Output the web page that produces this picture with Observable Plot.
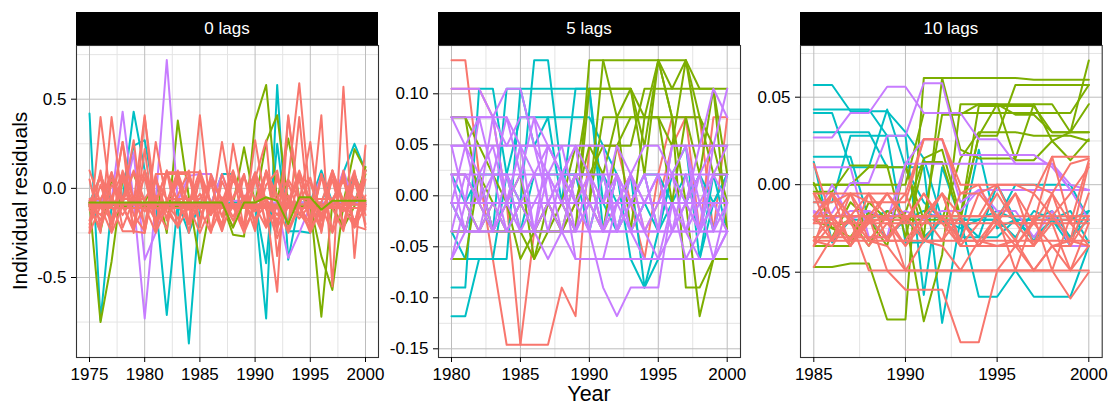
<!DOCTYPE html>
<html><head><meta charset="utf-8">
<script src="https://cdn.jsdelivr.net/npm/d3@7"></script>
<script src="https://cdn.jsdelivr.net/npm/@observablehq/plot@0.6"></script>
<style>
body{margin:0;background:#fff;font-family:"Liberation Sans",Arial,sans-serif;}
#wrap{position:relative;width:1110px;height:406px;overflow:hidden;}
.panel{position:absolute;top:0;overflow:visible;}
.strip{position:absolute;top:12px;height:33px;background:#000;color:#fff;font-size:17px;line-height:33px;text-align:center;}
.ytitle{position:absolute;left:20px;top:201px;transform:translate(-50%,-50%) rotate(-90deg);font-size:21px;white-space:nowrap;color:#000;}
.xtitle{position:absolute;left:589px;top:382px;transform:translateX(-50%);font-size:21.5px;color:#000;white-space:nowrap;}
</style></head>
<body><div id="wrap"></div>
<script>
// ---------- categories ----------
const groupNames = ["a", "b", "c", "d"];
const groupColors = ["#F8766D", "#7CAE00", "#00BFC4", "#C77CFF"];
const panelTitles = ["0 lags", "5 lags", "10 lags"];
const yAxisTitle = "Individual residuals";
const xAxisTitle = "Year";

// ---------- panel 1: 0 lags ----------
const lag0Years = [1975,1976,1977,1978,1979,1980,1981,1982,1983,1984,1985,1986,1987,1988,1989,1990,1991,1992,1993,1994,1995,1996,1997,1998,1999,2000];
const lag0XTicks = [1975,1980,1985,1990,1995,2000];
const lag0XMinor = [1977.5,1982.5,1987.5,1992.5,1997.5];
const lag0YTicks = [-0.5,0,0.5];
const lag0YMinor = [-0.75,-0.25,0.25,0.75];
const lag0Groups = ["c","c","c","b","b","b","d","d","a","a","a","a","a","a","a","a","a","a","a","a","a","a","a","a","a","a","b"];
const lag0Values = [
  [0.42,-0.74,-0.10,-0.06,0.43,  0.10,-0.08,-0.09,-0.08,-0.09,  -0.08,-0.09,0.08,0.08,-0.09,  -0.08,-0.42,0.25,-0.24,-0.24,  -0.25,-0.08,-0.09,-0.08,-0.08,  0.10],
  [-0.08,0.07,-0.08,-0.08,0.24,  0.27,-0.08,-0.71,-0.08,-0.25,  -0.08,-0.08,-0.09,-0.08,-0.08,  -0.09,-0.73,0.58,-0.40,-0.08,  -0.08,0.10,-0.08,0.09,0.25,  0.10],
  [-0.09,-0.09,0.07,-0.09,-0.09,  -0.09,-0.09,-0.09,-0.09,-0.87,  -0.09,-0.09,-0.09,-0.08,-0.08,  -0.09,-0.09,-0.09,-0.09,0.08,  -0.09,-0.08,0.08,-0.09,0.08,  -0.09],
  [-0.08,-0.75,-0.41,0.05,0.08,  -0.08,0.05,-0.25,0.38,-0.05,  -0.42,-0.08,-0.08,-0.26,-0.27,  0.38,0.58,-0.08,0.28,-0.05,  -0.08,-0.72,-0.08,-0.08,0.22,  0.10],
  [-0.09,-0.09,-0.09,-0.09,-0.09,  -0.09,-0.09,-0.09,-0.09,-0.09,  -0.09,-0.09,-0.09,-0.09,0.23,  -0.09,0.26,0.41,-0.09,-0.09,  -0.09,-0.38,-0.57,-0.09,-0.09,  0.12],
  [-0.10,-0.24,0.05,-0.10,-0.10,  -0.10,-0.10,-0.10,-0.10,-0.10,  -0.10,-0.10,-0.10,-0.10,-0.10,  -0.10,-0.10,-0.10,-0.10,-0.10,  -0.10,-0.10,-0.10,-0.22,-0.10,  0.08],
  [-0.07,-0.07,-0.07,0.43,-0.07,  -0.73,-0.07,0.72,-0.07,0.07,  0.08,0.08,-0.07,-0.07,-0.07,  0.09,-0.08,-0.08,-0.08,-0.08,  -0.08,-0.08,-0.08,-0.08,-0.08,  -0.08],
  [-0.09,-0.09,0.08,-0.09,0.20,  -0.40,-0.25,-0.09,-0.09,-0.09,  -0.09,-0.09,0.08,-0.09,-0.09,  -0.09,-0.09,-0.09,-0.39,-0.25,  -0.10,0.07,-0.09,0.10,-0.09,  -0.09],
  [-0.25,0.40,-0.10,0.26,-0.08,  0.41,-0.20,0.09,-0.08,-0.20,  0.41,-0.15,0.26,-0.10,-0.20,  0.27,-0.10,-0.58,0.41,-0.10,  -0.20,0.41,-0.55,0.57,-0.39,  0.24],
  [-0.08,-0.25,0.40,-0.08,0.27,  -0.25,0.26,-0.08,0.10,-0.25,  0.08,-0.08,-0.24,0.25,-0.08,  0.05,0.27,-0.38,0.05,0.59,  -0.08,-0.22,0.08,-0.08,0.10,  -0.22],
  [-0.10,0.08,-0.10,0.26,-0.25,  0.40,-0.08,0.10,-0.22,0.08,  -0.22,0.08,-0.08,-0.22,0.08,  -0.22,0.10,-0.25,0.40,-0.08,  0.26,-0.25,0.10,-0.22,0.08,  -0.08],
  [-0.22,0.10,-0.24,0.08,-0.22,  0.22,-0.24,0.09,0.09,0.09,  0.09,-0.24,0.08,-0.08,-0.22,  0.08,-0.22,0.08,-0.22,0.40,  -0.22,0.08,-0.24,0.10,-0.22,  0.10],
  [-0.10,-0.10,-0.10,-0.24,-0.24,  -0.25,0.08,0.08,0.08,0.08,  -0.10,-0.10,-0.10,-0.10,-0.10,  -0.10,-0.10,-0.10,-0.10,-0.10,  -0.25,-0.10,-0.10,-0.10,-0.21,  -0.23],
  [-0.08,0.06,-0.20,0.05,-0.08,  0.06,-0.20,-0.08,0.05,-0.20,  0.06,-0.08,-0.20,0.05,-0.08,  0.06,-0.20,0.05,-0.08,0.05,  -0.20,0.06,-0.08,0.05,-0.20,  0.05],
  [-0.09,-0.09,-0.18,-0.09,-0.09,  -0.09,-0.09,-0.09,-0.17,-0.09,  -0.09,-0.09,-0.09,-0.09,-0.09,  -0.17,-0.09,-0.09,-0.09,-0.17,  -0.09,-0.09,-0.09,-0.09,-0.09,  -0.09],
  [-0.11,-0.11,-0.11,-0.11,-0.11,  -0.11,-0.11,-0.11,-0.11,-0.11,  -0.11,-0.11,-0.11,-0.11,-0.11,  -0.11,-0.11,-0.11,-0.11,-0.11,  -0.11,-0.11,-0.11,-0.11,-0.11,  -0.11],
  [-0.07,-0.18,0.02,-0.07,0.10,  -0.07,-0.18,-0.07,0.03,-0.07,  -0.18,0.05,-0.07,-0.18,-0.07,  0.09,-0.07,-0.18,-0.07,0.08,  -0.07,-0.18,0.10,-0.07,-0.18,  -0.07],
  [-0.20,-0.07,0.09,-0.22,-0.06,  0.10,-0.21,-0.08,0.07,-0.19,  -0.09,0.05,-0.24,-0.05,0.08,  -0.21,0.02,0.10,-0.23,-0.09,  0.06,-0.18,-0.07,0.07,-0.21,  -0.04],
  [-0.12,-0.22,-0.05,0.09,-0.15,  -0.24,0.05,-0.13,-0.21,0.06,  -0.12,-0.25,0.04,-0.10,-0.22,  0.05,-0.12,-0.20,0.03,-0.14,  -0.22,0.08,-0.11,-0.24,0.04,  -0.12],
  [-0.09,-0.09,-0.09,-0.09,-0.09,  -0.09,-0.09,-0.09,-0.09,-0.09,  -0.09,-0.09,-0.09,-0.09,-0.09,  -0.09,-0.09,-0.28,-0.09,-0.09,  -0.09,-0.09,-0.09,-0.09,-0.09,  -0.09],
  [0.05,-0.22,0.09,-0.10,-0.24,  0.10,-0.10,-0.23,0.09,-0.10,  0.07,-0.24,-0.10,0.10,-0.23,  -0.10,0.09,-0.22,-0.10,0.08,  -0.10,-0.24,0.09,-0.10,0.05,  -0.20],
  [-0.18,0.02,-0.18,0.10,-0.06,  -0.20,0.07,-0.18,-0.04,0.10,  -0.20,0.03,-0.16,0.07,-0.06,  -0.24,0.10,-0.04,-0.20,0.06,  0.03,-0.15,0.05,-0.20,0.06,  -0.15],
  [-0.09,-0.15,-0.05,-0.15,-0.05,  -0.13,-0.04,-0.16,-0.06,-0.12,  -0.03,-0.15,-0.05,-0.16,-0.04,  -0.13,-0.06,-0.15,-0.04,-0.15,  -0.05,-0.16,-0.06,-0.13,-0.05,  -0.10],
  [0.10,-0.08,-0.08,-0.08,0.09,  -0.08,-0.08,0.10,-0.08,-0.08,  0.10,-0.08,-0.08,0.10,-0.08,  -0.08,0.09,-0.08,-0.08,0.10,  -0.08,-0.08,0.10,-0.08,-0.08,  0.10],
  [-0.25,-0.10,-0.25,-0.10,-0.22,  -0.10,-0.25,-0.10,-0.22,-0.10,  -0.25,-0.10,-0.21,-0.10,-0.25,  -0.10,-0.22,-0.10,-0.25,-0.10,  -0.23,-0.10,-0.25,-0.10,-0.22,  -0.10],
  [-0.06,-0.06,0.05,-0.06,-0.06,  -0.06,0.04,-0.06,-0.06,-0.06,  -0.06,0.05,-0.06,-0.06,0.06,  -0.06,-0.06,-0.06,0.05,-0.06,  -0.06,-0.06,-0.06,0.04,-0.06,  -0.06],
  [-0.08,-0.08,-0.08,-0.08,-0.08,  -0.08,-0.08,-0.08,-0.08,-0.08,  -0.08,-0.08,-0.08,-0.22,-0.08,  -0.08,-0.05,-0.07,-0.20,-0.05,  -0.05,-0.12,-0.07,-0.07,-0.07,  -0.07]
];

// ---------- panel 2: 5 lags ----------
const lag5Years = [1980,1981,1982,1983,1984,1985,1986,1987,1988,1989,1990,1991,1992,1993,1994,1995,1996,1997,1998,1999,2000];
const lag5XTicks = [1980,1985,1990,1995,2000];
const lag5XMinor = [1982.5,1987.5,1992.5,1997.5];
const lag5YTicks = [-0.15,-0.10,-0.05,0,0.05,0.10];
const lag5YMinor = [-0.125,-0.075,-0.025,0.025,0.075,0.125];
const lag5Groups = ["a","a","c","c","c","c","c","b","b","b","b","b","b","b","b","d","d","d","d","d","d","d","d","d","d","d","d","d","d","d","d"];
const lag5Values = [
  [0.133,0.133,0.021,-0.062,-0.146,  -0.146,-0.035,-0.007,-0.035,-0.007,  0.021,-0.035,-0.007,0.021,-0.035,  -0.007,0.049,0.077,0.077,-0.035,  0.077],
  [0.105,0.105,0.105,0.077,-0.007,  -0.146,-0.146,-0.146,-0.090,-0.118,  0.049,0.049,0.049,-0.007,-0.062,  0.021,0.077,0.077,-0.035,0.077,  0.077],
  [-0.118,-0.118,-0.062,-0.062,-0.062,  0.105,0.105,0.105,0.105,0.105,  0.105,-0.007,-0.035,0.021,-0.090,  -0.035,0.021,-0.007,0.021,-0.035,  0.021],
  [-0.090,-0.090,0.105,0.105,0.021,  -0.007,0.133,0.133,0.021,0.021,  0.021,0.021,-0.035,-0.007,0.021,  -0.035,-0.007,0.021,-0.035,0.021,  0.021],
  [-0.035,-0.062,-0.062,-0.062,0.021,  0.077,0.077,0.077,0.077,0.077,  0.077,0.049,0.021,-0.062,-0.090,  -0.062,-0.062,-0.062,-0.062,-0.007,  0.021],
  [-0.007,-0.035,0.021,-0.035,0.105,  0.105,0.049,0.077,-0.007,0.105,  0.105,-0.035,0.021,-0.035,-0.007,  -0.035,0.021,0.049,-0.062,0.021,  -0.035],
  [0.021,-0.007,0.021,0.021,0.021,  -0.035,0.021,0.021,0.021,0.021,  -0.035,0.021,-0.007,-0.007,0.021,  0.021,-0.007,-0.007,0.021,-0.007,  0.021],
  [0.077,0.077,-0.007,-0.007,-0.007,  -0.007,-0.007,-0.007,-0.007,-0.007,  -0.007,0.133,0.133,0.133,0.133,  0.133,0.133,0.133,0.077,0.021,  0.021],
  [-0.035,-0.035,-0.035,-0.035,-0.035,  -0.035,-0.035,-0.035,-0.035,-0.035,  0.105,0.105,0.105,0.105,0.049,  0.133,0.105,0.105,0.105,0.105,  0.021],
  [-0.062,-0.062,0.021,-0.007,-0.035,  -0.035,-0.062,-0.007,-0.035,0.021,  -0.007,0.077,0.077,-0.035,0.077,  0.133,0.077,-0.090,-0.090,-0.062,  -0.062],
  [0.021,0.021,-0.007,-0.035,-0.007,  0.021,-0.062,-0.035,-0.007,0.049,  0.021,0.049,0.049,0.077,0.077,  0.077,0.049,0.133,0.049,0.049,  -0.007],
  [-0.007,-0.007,-0.007,-0.007,-0.007,  -0.007,-0.007,-0.007,-0.007,-0.035,  0.133,0.133,0.077,0.105,0.021,  0.133,0.077,-0.007,-0.118,-0.062,  -0.062],
  [-0.035,-0.035,0.021,-0.035,-0.035,  -0.007,-0.035,-0.035,-0.035,-0.007,  0.049,0.021,0.077,0.077,0.077,  0.077,-0.007,0.077,0.021,0.105,  0.105],
  [0.077,0.077,0.049,0.021,-0.007,  -0.007,-0.007,-0.007,-0.007,0.021,  0.105,0.105,0.105,0.105,0.077,  0.077,0.077,0.077,0.077,0.049,  0.049],
  [-0.007,-0.007,-0.035,-0.007,-0.007,  -0.062,-0.035,-0.007,-0.007,-0.007,  -0.007,-0.035,0.049,0.049,0.105,  0.105,0.105,0.133,0.105,0.105,  -0.035],
  [0.105,0.105,0.105,0.077,0.105,  0.105,0.049,-0.007,0.021,-0.007,  0.021,-0.035,0.021,-0.007,0.021,  -0.035,0.049,0.049,0.049,0.105,  0.077],
  [0.077,0.077,0.077,0.077,0.077,  0.049,0.021,0.049,0.021,-0.035,  -0.007,-0.007,0.021,-0.035,-0.007,  0.021,-0.035,-0.007,0.021,0.049,  0.105],
  [0.049,0.049,0.049,0.049,0.049,  0.049,0.049,0.049,0.049,-0.007,  -0.035,-0.090,-0.118,-0.090,-0.090,  -0.090,-0.007,-0.062,-0.062,-0.062,  -0.035],
  [0.021,0.021,0.021,0.021,0.021,  0.021,0.021,0.021,0.021,0.021,  0.021,0.021,0.021,-0.007,0.021,  0.021,0.021,0.021,0.021,0.021,  0.021],
  [-0.007,-0.007,-0.007,-0.007,-0.007,  -0.007,-0.007,-0.007,-0.007,-0.007,  -0.007,-0.007,-0.007,-0.007,-0.007,  -0.007,-0.007,-0.007,-0.007,-0.007,  -0.007],
  [-0.035,-0.035,-0.035,-0.035,-0.035,  -0.035,-0.035,-0.035,-0.035,-0.035,  -0.035,-0.035,-0.035,-0.035,-0.035,  -0.035,-0.035,-0.035,-0.035,-0.035,  -0.035],
  [0.021,-0.035,0.021,-0.035,-0.007,  0.021,-0.035,0.021,-0.007,-0.035,  0.021,-0.035,-0.007,0.021,-0.035,  -0.007,0.021,-0.035,0.021,-0.035,  0.021],
  [-0.062,-0.007,-0.035,0.021,-0.035,  -0.007,0.021,-0.035,0.021,-0.062,  -0.062,-0.062,-0.007,-0.035,-0.062,  -0.062,-0.007,-0.035,-0.007,-0.062,  -0.007],
  [-0.007,0.049,-0.007,0.077,-0.007,  0.049,-0.035,0.049,0.021,0.049,  0.049,0.049,-0.035,-0.007,0.021,  -0.035,0.049,0.049,-0.035,0.049,  0.049],
  [0.049,-0.007,0.077,0.021,0.077,  0.021,0.077,-0.007,0.021,-0.007,  -0.035,0.021,-0.035,0.021,-0.007,  0.021,-0.035,0.021,-0.035,-0.007,  -0.035],
  [0.077,0.049,0.077,0.077,0.049,  0.077,0.077,0.049,0.021,0.049,  0.021,-0.007,0.049,0.021,0.049,  0.049,0.021,0.049,-0.007,0.021,  0.049],
  [-0.035,0.021,-0.007,-0.035,0.021,  -0.035,-0.007,0.021,-0.035,0.021,  -0.007,-0.035,0.021,-0.035,-0.007,  0.021,-0.035,-0.007,-0.035,0.021,  -0.007],
  [-0.007,-0.035,-0.035,-0.007,-0.035,  -0.007,-0.035,-0.007,-0.035,-0.062,  -0.062,-0.062,-0.062,-0.062,-0.062,  -0.062,-0.062,-0.062,-0.035,-0.007,  -0.035],
  [0.021,0.021,-0.007,0.021,0.021,  -0.007,0.021,0.021,-0.007,0.021,  0.021,-0.007,-0.007,0.021,-0.007,  -0.007,0.021,-0.007,0.049,0.049,  0.049],
  [0.049,0.049,0.021,0.049,-0.007,  0.049,0.049,0.021,0.049,0.049,  -0.035,-0.035,-0.035,-0.035,-0.035,  -0.062,-0.035,-0.035,-0.062,-0.062,  -0.035],
  [-0.062,-0.035,-0.035,-0.035,-0.007,  -0.035,-0.035,-0.062,-0.035,-0.035,  -0.007,-0.035,-0.035,-0.007,-0.035,  -0.035,-0.035,-0.007,-0.035,-0.035,  -0.007]
];

// ---------- panel 3: 10 lags ----------
const lag10Years = [1985,1986,1987,1988,1989,1990,1991,1992,1993,1994,1995,1996,1997,1998,1999,2000];
const lag10XTicks = [1985,1990,1995,2000];
const lag10XMinor = [1987.5,1992.5,1997.5];
const lag10YTicks = [-0.05,0,0.05];
const lag10YMinor = [-0.075,-0.025,0.025,0.075];
const lag10Groups = ["c","c","c","c","c","c","c","b","b","b","b","b","b","b","b","b","d","d","d","d","d","a","a","a","a","a","a","a","a","a","a","a","a","a","a","a","a","a","a"];
const lag10Values = [
  [0.057,0.057,0.042,0.042,0.042,  0.030,0.015,-0.020,-0.030,-0.030,  -0.030,-0.020,-0.020,-0.020,-0.035,  -0.035],
  [0.043,0.043,0.043,0.043,0.028,  0.028,-0.063,0.010,-0.020,-0.064,  -0.064,-0.049,-0.064,-0.064,-0.064,  -0.035],
  [0.041,0.041,0.010,0.010,0.043,  0.010,0.010,-0.079,-0.020,-0.020,  -0.020,0.000,0.000,0.000,0.000,  -0.020],
  [0.030,0.030,0.030,0.030,0.010,  0.010,-0.010,-0.020,-0.025,-0.020,  -0.015,-0.020,-0.032,-0.020,-0.020,  -0.015],
  [0.016,0.016,0.016,-0.020,-0.030,  -0.020,-0.030,-0.020,-0.020,-0.030,  0.000,-0.020,-0.020,-0.015,-0.030,  -0.020],
  [0.013,-0.033,-0.020,-0.020,-0.015,  -0.020,-0.015,-0.020,-0.020,-0.020,  -0.020,-0.030,-0.015,-0.020,-0.015,  -0.033],
  [-0.010,-0.010,0.028,0.028,0.028,  -0.033,-0.033,-0.020,-0.030,0.020,  -0.025,-0.020,-0.030,-0.020,-0.030,  -0.015],
  [-0.047,-0.047,-0.045,-0.045,-0.077,  -0.077,0.061,0.061,0.061,0.061,  0.061,0.061,0.060,0.060,0.060,  0.060],
  [-0.035,-0.035,-0.035,-0.010,-0.020,  -0.020,-0.078,-0.040,0.046,0.046,  0.046,0.046,0.046,0.046,0.030,  0.030],
  [0.000,0.000,0.000,0.000,0.000,  0.000,0.041,0.041,0.041,0.041,  0.041,0.041,0.041,0.041,0.041,  0.057],
  [-0.018,-0.018,-0.018,-0.018,-0.018,  -0.018,-0.018,-0.018,-0.018,0.045,  0.045,0.045,0.045,0.030,0.030,  0.071],
  [-0.004,-0.004,0.011,0.011,0.011,  -0.030,0.013,0.013,-0.020,0.028,  0.028,0.057,0.057,0.057,0.057,  0.057],
  [-0.030,-0.030,-0.010,-0.020,-0.035,  0.012,-0.030,0.061,0.020,0.015,  0.015,0.015,0.046,0.025,0.030,  0.046],
  [0.001,-0.025,-0.030,-0.016,-0.020,  -0.016,0.015,0.020,-0.018,0.028,  0.046,0.014,0.014,0.025,0.014,  0.026],
  [0.000,0.000,0.000,0.010,0.010,  0.010,-0.020,0.040,0.040,0.046,  0.046,0.040,0.040,0.030,0.030,  0.030],
  [-0.020,-0.025,-0.020,-0.035,-0.015,  -0.020,-0.020,-0.020,0.015,0.030,  0.030,0.030,0.028,0.028,0.028,  0.025],
  [0.027,0.027,0.041,0.041,0.056,  0.056,0.041,0.041,0.041,0.026,  0.026,0.012,0.012,0.012,0.000,  -0.003],
  [-0.016,-0.016,0.001,0.001,0.028,  0.028,0.058,0.058,0.017,0.017,  0.017,0.017,0.017,0.010,-0.003,  -0.020],
  [0.010,0.010,0.010,-0.030,-0.030,  0.012,0.012,0.012,0.012,0.012,  0.012,0.012,0.012,0.012,-0.003,  -0.003],
  [-0.020,0.000,-0.020,-0.015,-0.020,  0.012,0.026,0.026,-0.010,-0.003,  -0.003,-0.003,-0.003,-0.003,-0.003,  -0.003],
  [-0.015,-0.020,-0.015,-0.015,-0.020,  -0.015,-0.020,-0.015,-0.015,-0.003,  -0.015,-0.015,-0.030,-0.015,-0.035,  -0.035],
  [-0.047,-0.030,-0.020,-0.049,-0.049,  -0.060,-0.060,-0.060,-0.090,-0.090,  -0.049,-0.049,-0.049,-0.049,-0.065,  -0.050],
  [-0.005,-0.005,-0.005,-0.005,-0.005,  -0.005,0.026,0.026,-0.005,-0.005,  0.000,0.000,-0.005,0.016,0.016,  0.016],
  [-0.018,-0.018,-0.018,-0.018,-0.018,  -0.018,-0.018,-0.018,-0.018,-0.018,  -0.018,-0.018,-0.018,-0.018,-0.018,  -0.018],
  [-0.022,-0.022,-0.022,-0.022,-0.022,  -0.022,-0.022,-0.022,-0.022,-0.022,  -0.022,-0.022,-0.022,-0.022,-0.022,  -0.022],
  [-0.032,-0.032,-0.032,-0.032,-0.032,  -0.032,-0.032,-0.032,-0.032,-0.032,  -0.032,-0.032,-0.032,-0.032,-0.032,  -0.032],
  [-0.035,-0.005,-0.035,-0.018,-0.049,  -0.049,-0.049,-0.049,-0.049,-0.049,  -0.049,-0.035,-0.049,-0.035,-0.049,  -0.035],
  [-0.018,-0.032,-0.005,-0.032,-0.018,  -0.005,-0.032,-0.018,-0.032,-0.005,  -0.018,-0.032,-0.005,-0.018,-0.032,  0.012],
  [-0.032,-0.018,-0.032,-0.005,-0.032,  -0.032,-0.018,-0.005,-0.032,-0.032,  -0.018,-0.049,-0.018,-0.049,-0.018,  -0.018],
  [0.012,-0.020,-0.005,-0.022,-0.005,  -0.022,-0.005,-0.022,-0.035,-0.022,  -0.005,-0.022,-0.035,-0.005,-0.022,  0.014],
  [-0.022,-0.005,-0.022,-0.035,-0.022,  -0.035,-0.022,-0.005,-0.035,-0.035,  -0.022,-0.005,-0.022,-0.035,-0.035,  -0.005],
  [-0.005,-0.032,-0.018,-0.018,-0.032,  -0.018,-0.032,-0.032,-0.018,-0.018,  0.000,-0.022,-0.022,0.016,-0.022,  -0.035],
  [-0.018,-0.005,-0.018,-0.005,-0.018,  -0.035,-0.018,-0.005,-0.018,-0.035,  -0.018,-0.005,-0.035,-0.018,-0.005,  0.010],
  [-0.032,-0.035,-0.018,-0.032,-0.035,  -0.049,-0.032,-0.035,-0.049,-0.032,  -0.035,-0.032,-0.049,-0.035,-0.032,  -0.035],
  [-0.005,-0.018,-0.032,-0.018,-0.005,  -0.018,-0.018,-0.032,-0.005,0.000,  -0.022,-0.035,-0.022,-0.005,-0.035,  -0.018],
  [-0.020,-0.020,-0.035,-0.020,-0.020,  -0.020,-0.005,-0.020,-0.020,-0.035,  -0.035,-0.035,-0.035,-0.022,-0.049,  -0.022],
  [-0.030,-0.030,-0.030,-0.030,-0.030,  -0.018,-0.018,-0.018,-0.035,-0.035,  -0.035,-0.035,-0.020,-0.020,-0.020,  -0.020],
  [-0.035,-0.022,-0.035,-0.022,-0.018,  -0.049,-0.049,-0.049,-0.049,-0.049,  -0.049,-0.049,-0.049,-0.049,-0.049,  -0.049],
  [-0.010,-0.010,-0.005,-0.010,-0.010,  -0.010,0.026,0.026,0.000,0.000,  0.000,0.000,0.000,-0.005,0.012,  0.015]
];

// ---------- drawing ----------
const wrap = document.getElementById("wrap");

function drawPanel(cfg) {
  const marks = [
    Plot.ruleY(cfg.yMinor, {stroke: "#e4e4e4", strokeWidth: 1}),
    Plot.ruleX(cfg.xMinor, {stroke: "#e4e4e4", strokeWidth: 1}),
    Plot.ruleY(cfg.yTicks, {stroke: "#bdbdbd", strokeWidth: 1}),
    Plot.ruleX(cfg.xTicks, {stroke: "#bdbdbd", strokeWidth: 1})
  ];
  cfg.values.forEach((row, s) => {
    const data = row.map((v, i) => ({year: cfg.years[i], value: v, group: cfg.groups[s]}));
    marks.push(Plot.line(data, {x: "year", y: "value", stroke: "group", strokeWidth: 2, strokeLinejoin: "round"}));
  });
  marks.push(Plot.frame({stroke: "#333", strokeWidth: 1.1}));
  marks.push(Plot.axisX(cfg.xTicks, {tickSize: 5, tickPadding: 5, label: null, tickFormat: d => String(d), fontSize: 17}));
  marks.push(Plot.axisY(cfg.yTicks, {tickSize: 5, tickPadding: 5, label: null, tickFormat: d => d.toFixed(cfg.dec), fontSize: 17}));
  const svg = Plot.plot({
    width: cfg.width, height: 406,
    marginLeft: cfg.mLeft, marginRight: cfg.mRight, marginTop: 45, marginBottom: 49,
    x: {domain: [cfg.xTicks[0], cfg.xTicks[cfg.xTicks.length - 1]], range: cfg.xRange},
    y: {domain: cfg.yDom, range: cfg.yRange},
    color: {domain: groupNames, range: groupColors},
    style: {fontFamily: "Liberation Sans, Arial, sans-serif", fontSize: "17px", color: "#000", background: "transparent", overflow: "visible"},
    marks
  });
  svg.classList.add("panel");
  svg.style.left = cfg.left + "px";
  svg.style.overflow = "visible";
  wrap.appendChild(svg);
  const strip = document.createElement("div");
  strip.className = "strip";
  strip.style.left = (cfg.left + cfg.mLeft) + "px";
  strip.style.width = (cfg.width - cfg.mLeft - cfg.mRight) + "px";
  strip.textContent = cfg.title;
  wrap.appendChild(strip);
}

drawPanel({title: panelTitles[0], years: lag0Years, groups: lag0Groups, values: lag0Values,
  xTicks: lag0XTicks, xMinor: lag0XMinor, yTicks: lag0YTicks, yMinor: lag0YMinor, dec: 1,
  left: 0, width: 380, mLeft: 76, mRight: 2, xRange: [89, 365], yDom: [-0.5, 0.5], yRange: [277, 98.7]});
drawPanel({title: panelTitles[1], years: lag5Years, groups: lag5Groups, values: lag5Values,
  xTicks: lag5XTicks, xMinor: lag5XMinor, yTicks: lag5YTicks, yMinor: lag5YMinor, dec: 2,
  left: 380, width: 362, mLeft: 58, mRight: 2, xRange: [71, 346.7], yDom: [-0.15, 0.10], yRange: [348.3, 93.3]});
drawPanel({title: panelTitles[2], years: lag10Years, groups: lag10Groups, values: lag10Values,
  xTicks: lag10XTicks, xMinor: lag10XMinor, yTicks: lag10YTicks, yMinor: lag10YMinor, dec: 2,
  left: 742, width: 362, mLeft: 58, mRight: 2.3, xRange: [71.3, 346.3], yDom: [-0.05, 0.05], yRange: [271.7, 96.7]});

const yt = document.createElement("div");
yt.className = "ytitle"; yt.textContent = yAxisTitle; wrap.appendChild(yt);
const xt = document.createElement("div");
xt.className = "xtitle"; xt.textContent = xAxisTitle; wrap.appendChild(xt);
</script>
</body></html>
